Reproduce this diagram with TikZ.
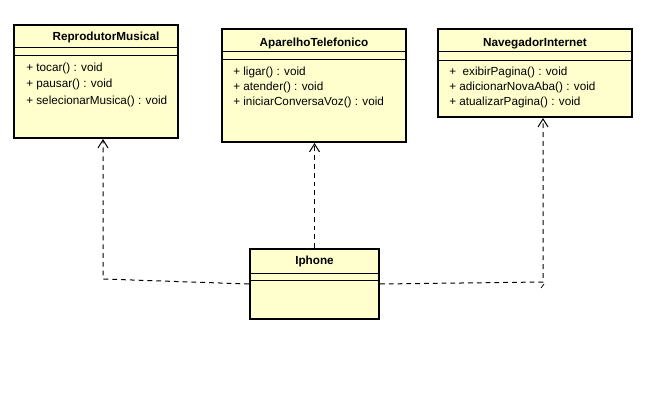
\documentclass[tikz,border=0pt]{standalone}
\usepackage{fontspec}
\setmainfont{Liberation Sans}
\usetikzlibrary{
  calc,positioning,fit,
  arrows.meta
}
\definecolor{classfill}{RGB}{255,255,206}

\begin{document}
\begin{tikzpicture}[x=0.75pt,y=-0.75pt,
  classbox/.style={draw=black,fill=classfill,line width=1.5pt,inner sep=0pt,rectangle},
  sepline/.style={black,line width=0.75pt},
  classname/.style={font=\fontsize{8.8}{10}\selectfont\bfseries,inner sep=0pt},
  method/.style={font=\fontsize{8.8}{10}\selectfont,anchor=base west,inner sep=0pt},
  dep/.style={black,line width=0.75pt,dash pattern=on 3.6pt off 3pt,
    -{Straight Barb[length=6pt,width=7.5pt]}}
]
\useasboundingbox (0,0) rectangle (671,403);

% classes
\node[classbox,fit={(14,25) (178,138)}] (rep) {};
\draw[sepline] (14,48) -- (178,48);
\draw[sepline] (14,56) -- (178,56);
\node[classname] (repT) at (106,37) {ReprodutorMusical};
\foreach \txt [count=\i] in {+ tocar() : void,+ pausar() : void,+ selecionarMusica() : void}
  \node[method] at (26,{56+16*\i}) {\txt};

\node[classbox,fit={(222,29) (406,142)}] (tel) {};
\draw[sepline] (222,52) -- (406,52);
\draw[sepline] (222,60) -- (406,60);
\node[classname] (telT) at (314,43) {AparelhoTelefonico};
\foreach \txt [count=\i] in {+ ligar() : void,+ atender() : void,+ iniciarConversaVoz() : void}
  \node[method] at (233,{61+15*\i}) {\txt};

\node[classbox,fit={(438,29) (632,117)}] (nav) {};
\draw[sepline] (438,52) -- (632,52);
\draw[sepline] (438,61) -- (632,61);
\node[classname] (navT) at (535,43) {NavegadorInternet};
\foreach \txt [count=\i] in {+ \ exibirPagina() : void,+ adicionarNovaAba() : void,+ atualizarPagina() : void}
  \node[method] at (449,{61+15*\i}) {\txt};

\node[classbox,fit={(250,249) (379,319)}] (iph) {};
\draw[sepline] (250,273) -- (379,273);
\draw[sepline] (250,280) -- (379,280);
\node[classname] (iphT) at (314.5,261) {Iphone};

% realizations
\coordinate (c1) at (103,279);
\coordinate (c3) at (543,282);
\draw[dep] (iph.west) -- (c1) -- (c1 |- rep.south);
\draw[dep] (iph.north) -- (iph.north |- tel.south);
\draw[dep] (iph.east) -- (c3) -- (c3 |- nav.south);
\draw[black,line width=0.6pt] (544,284) -- (541,288);
\end{tikzpicture}
\end{document}
